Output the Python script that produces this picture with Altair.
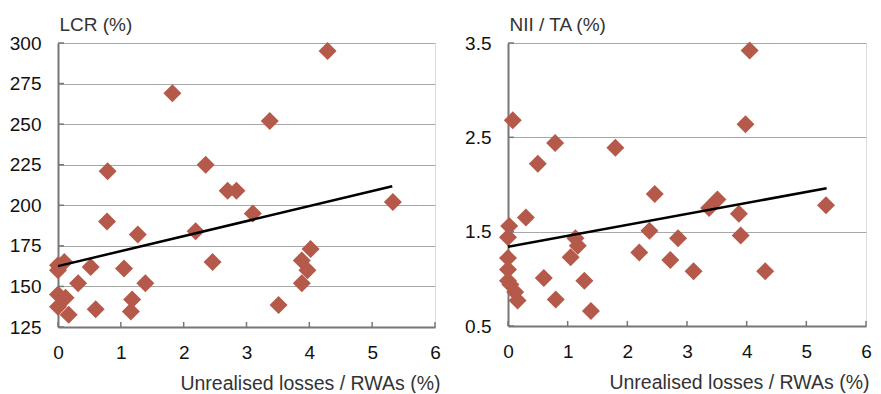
import altair as alt
import pandas as pd

# ---- data ----
lcr_x = [4.29, 1.82, 3.37, 2.35, 0.79, 2.70, 2.84, 3.10, 5.33, 0.78, 1.27, 2.19, 2.46, 4.02,
         3.88, 3.97, 3.88, 3.51, 0.00, 0.10, 0.00, 0.52, 1.05, 0.32, 1.39, 0.00, 0.12, 1.18,
         0.00, 0.17, 0.60, 1.16]
lcr_y = [295, 269, 252, 225, 221, 209, 209, 195, 202, 190, 182, 184, 165, 173,
         166, 160, 152, 138.5, 163, 165, 160, 162, 161, 152, 152, 145, 143, 142,
         137.5, 132.5, 136, 134.5]

nii_x = [4.05, 0.08, 3.98, 0.79, 1.80, 0.50, 2.46, 3.51, 3.37, 5.33, 3.87, 0.30, 0.02, 0.00,
         2.37, 1.13, 1.17, 2.85, 3.90, 1.05, 2.20, 2.72, 0.00, 0.00, 3.11, 4.31, 0.60, 1.28,
         0.00, 0.04, 0.12, 0.16, 0.80, 1.39]
nii_y = [3.42, 2.68, 2.64, 2.44, 2.39, 2.22, 1.90, 1.84, 1.75, 1.78, 1.69, 1.65, 1.56, 1.44,
         1.51, 1.43, 1.35, 1.43, 1.46, 1.23, 1.28, 1.20, 1.22, 1.10, 1.08, 1.08, 1.01, 0.98,
         0.98, 0.94, 0.86, 0.77, 0.78, 0.66]

lcr_trend_x = [0.0, 5.32]
lcr_trend_y = [162.5, 211.7]
nii_trend_x = [0.0, 5.34]
nii_trend_y = [1.34, 1.96]

x_ticks = [0, 1, 2, 3, 4, 5, 6]
lcr_ticks = [125, 150, 175, 200, 225, 250, 275, 300]
nii_ticks = [0.5, 1.5, 2.5, 3.5]

x_title = "Unrealised losses / RWAs (%)"
FONT = "Liberation Sans"
MARKER = "#B55A4A"
AXIS = "#777777"
GRID = "#a8a8a8"
FS = 19


def panel(xs, ys, txs, tys, ydomain, yticks, yfmt, ytitle, w, h, lpad, tx):
    pts = pd.DataFrame({"x": xs, "y": ys})
    trend = pd.DataFrame({"x": txs, "y": tys})
    xt = pd.DataFrame({"x": x_ticks})
    yt = pd.DataFrame({"y": yticks})
    xscale = alt.Scale(domain=[0, 6], nice=False, zero=False)
    yscale = alt.Scale(domain=ydomain, nice=False, zero=False)

    xaxis = alt.Axis(values=x_ticks, format="d", grid=False, domain=True, domainColor=AXIS,
                     domainWidth=2, ticks=False, labelFlush=False, labelPadding=16,
                     labelFontSize=FS, labelColor="#111", labelFont=FONT, title=x_title,
                     titleFont=FONT, titleFontSize=FS + 0.5, titleFontWeight="normal",
                     titleColor="#333", titleAlign="right", titleX=w + tx, titlePadding=12)
    yaxis = alt.Axis(values=yticks, format=yfmt, grid=True, gridColor=GRID, gridWidth=1,
                     domain=True, domainColor=AXIS, domainWidth=2, ticks=False,
                     labelPadding=lpad, labelFlush=False, labelFontSize=FS, labelColor="#111",
                     labelFont=FONT, title=ytitle, titleFont=FONT, titleFontSize=FS,
                     titleFontWeight="normal", titleColor="#333", titleAngle=0,
                     titleAlign="left", titleX=1, titleY=-13, titleBaseline="alphabetic")

    points = alt.Chart(pts).mark_point(shape="diamond", filled=True, opacity=1, size=324,
                                       color=MARKER).encode(
        x=alt.X("x:Q", scale=xscale, axis=xaxis),
        y=alt.Y("y:Q", scale=yscale, axis=yaxis),
    )
    line = alt.Chart(trend).mark_line(color="black", strokeWidth=2.5).encode(
        x=alt.X("x:Q", scale=xscale),
        y=alt.Y("y:Q", scale=yscale),
    )
    # short inward tick marks at the axis values
    xtick_marks = alt.Chart(xt).mark_rule(color=AXIS, strokeWidth=1.5).encode(
        x=alt.X("x:Q", scale=xscale),
        y=alt.value(h - 5), y2=alt.value(h),
    )
    ytick_marks = alt.Chart(yt).mark_rule(color=AXIS, strokeWidth=1.5).encode(
        y=alt.Y("y:Q", scale=yscale),
        x=alt.value(0), x2=alt.value(6),
    )
    return alt.layer(points, line, xtick_marks, ytick_marks).properties(width=w, height=h)


left = panel(lcr_x, lcr_y, lcr_trend_x, lcr_trend_y, [125, 300], lcr_ticks, "d",
             "LCR (%)", 377, 284, 17, 5)
right = panel(nii_x, nii_y, nii_trend_x, nii_trend_y, [0.5, 3.5], nii_ticks, ".1f",
              "NII / TA (%)", 358, 283, 17, 3)

chart = alt.hconcat(left, right, spacing=23).properties(
    padding={"left": 0, "top": 6, "right": 0, "bottom": 0}
).configure_view(stroke=None).configure(background="white")

chart.save("out.html", embed_options={"renderer": "svg", "actions": False})
